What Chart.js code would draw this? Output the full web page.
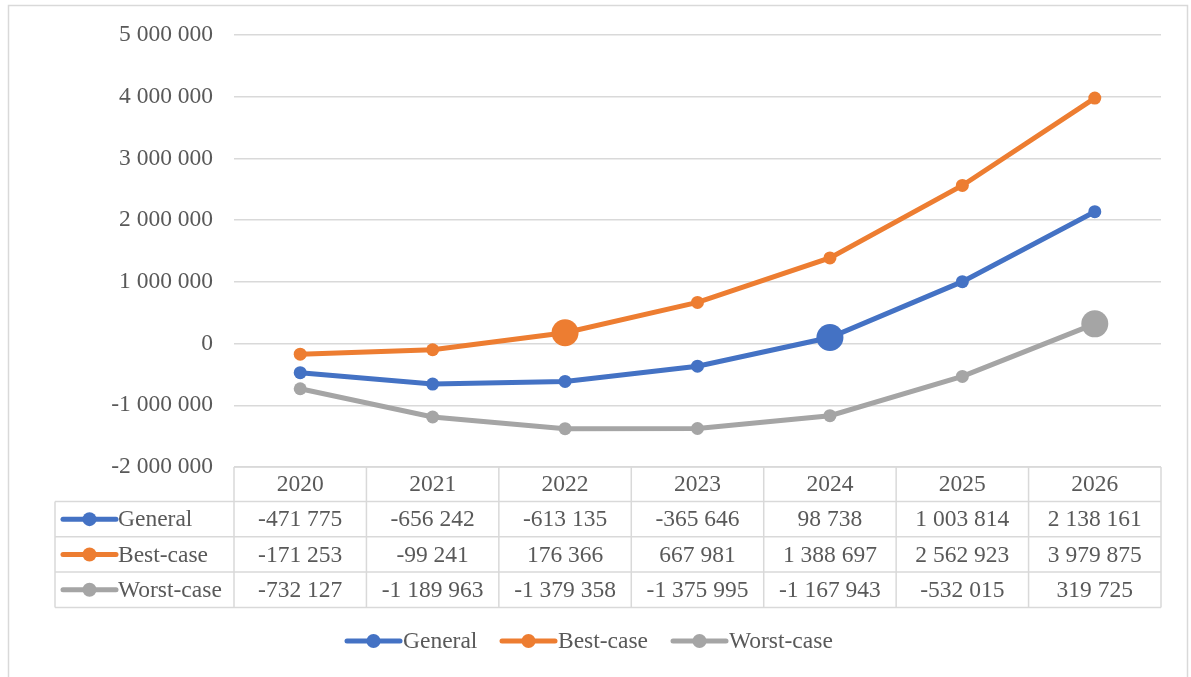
<!DOCTYPE html>
<html><head><meta charset="utf-8">
<script src="https://cdn.jsdelivr.net/npm/chart.js@4.4.1/dist/chart.umd.min.js"></script>
<style>html,body{margin:0;padding:0;background:#fff;}canvas{display:block}</style>
</head><body>
<canvas id="c" width="1191" height="677"></canvas>
<script>
// ---- data ----
const years = ['2020', '2021', '2022', '2023', '2024', '2025', '2026'];
const general = [-471775, -656242, -613135, -365646, 98738, 1003814, 2138161];
const bestCase = [-171253, -99241, 176366, 667981, 1388697, 2562923, 3979875];
const worstCase = [-732127, -1189963, -1379358, -1375995, -1167943, -532015, 319725];
const seriesNames = ['General', 'Best-case', 'Worst-case'];
const yMin = -2000000, yMax = 5000000, yStep = 1000000;
const highlightIndex = [4, 2, 6]; // enlarged marker per series

// ---- styles ----
const FONT = '"Liberation Serif", "Times New Roman", serif';
const FS = 23.5;
const TXT = '#595959';
const GRID = '#d9d9d9';
const colors = ['#4472C4', '#ED7D31', '#A5A5A5'];
const seriesData = [general, bestCase, worstCase];

function fmt(v) {
  const s = Math.abs(Math.round(v)).toString().replace(/\B(?=(\d{3})+(?!\d))/g, ' ');
  return (v < 0 ? '-' : '') + s;
}

function drawKey(ctx, x1, x2, y, color) {
  ctx.save();
  ctx.strokeStyle = color; ctx.lineWidth = 5; ctx.lineCap = 'round';
  ctx.beginPath(); ctx.moveTo(x1, y); ctx.lineTo(x2, y); ctx.stroke();
  ctx.fillStyle = color;
  ctx.beginPath(); ctx.arc((x1 + x2) / 2, y, 7, 0, Math.PI * 2); ctx.fill();
  ctx.restore();
}

const tablePlugin = {
  id: 'tablePlugin',
  beforeDraw(chart) {
    const ctx = chart.ctx;
    ctx.save();
    ctx.fillStyle = '#fff';
    ctx.fillRect(0, 0, chart.width, chart.height);
    ctx.strokeStyle = GRID; ctx.lineWidth = 1.5;
    ctx.strokeRect(8.5, 5.5, 1179, 720);
    ctx.restore();
  },
  afterDraw(chart) {
    const ctx = chart.ctx;
    const xs = chart.scales.x;
    const area = chart.chartArea;
    const n = years.length;
    const cw = (area.right - area.left) / n;
    const top = area.bottom;
    const hdrBottom = top + 34.5;
    const rowH = 35.3;
    const tableLeft = 55;
    const bottom = hdrBottom + rowH * 3;
    ctx.save();
    ctx.strokeStyle = GRID; ctx.lineWidth = 1.5;
    // horizontal lines
    ctx.beginPath();
    ctx.moveTo(area.left, top); ctx.lineTo(area.right, top);
    for (let r = 0; r <= 3; r++) {
      const y = hdrBottom + r * rowH;
      ctx.moveTo(tableLeft, y); ctx.lineTo(area.right, y);
    }
    // vertical lines
    for (let i = 0; i <= n; i++) {
      const x = area.left + i * cw;
      ctx.moveTo(x, top); ctx.lineTo(x, bottom);
    }
    ctx.moveTo(tableLeft, hdrBottom); ctx.lineTo(tableLeft, bottom);
    ctx.stroke();

    ctx.fillStyle = TXT;
    ctx.font = FS + 'px ' + FONT;
    ctx.textAlign = 'center'; ctx.textBaseline = 'middle';
    years.forEach((yr, i) => {
      ctx.fillText(yr, xs.getPixelForValue(i), (top + hdrBottom) / 2 + 1);
    });
    seriesData.forEach((arr, r) => {
      const yc = hdrBottom + r * rowH + rowH / 2 + 1;
      ctx.textAlign = 'center';
      ctx.fillStyle = TXT;
      arr.forEach((v, i) => ctx.fillText(fmt(v), xs.getPixelForValue(i), yc));
      drawKey(ctx, 63, 116, yc - 1, colors[r]);
      ctx.textAlign = 'left'; ctx.fillStyle = TXT;
      ctx.fillText(seriesNames[r], 118, yc);
    });

    // bottom legend
    const ly = 641;
    const legendX = [347, 502, 673];
    seriesNames.forEach((name, r) => {
      const x = legendX[r];
      drawKey(ctx, x, x + 53, ly, colors[r]);
      ctx.textAlign = 'left'; ctx.fillStyle = TXT;
      ctx.fillText(name, x + 56, ly + 1);
    });
    ctx.restore();
  }
};

const datasets = seriesNames.map((name, k) => ({
  label: name,
  data: seriesData[k],
  borderColor: colors[k],
  backgroundColor: colors[k],
  borderWidth: 5,
  tension: 0,
  pointBackgroundColor: colors[k],
  pointBorderColor: colors[k],
  pointBorderWidth: 0,
  pointRadius: c => c.dataIndex === highlightIndex[k] ? 13.5 : 6.5,
  pointHoverRadius: c => c.dataIndex === highlightIndex[k] ? 13.5 : 6.5
}));

new Chart(document.getElementById('c'), {
  type: 'line',
  data: { labels: years, datasets },
  plugins: [tablePlugin],
  options: {
    responsive: false,
    animation: false,
    events: [],
    layout: { padding: { left: 0, right: 30, top: 35, bottom: 210 } },
    plugins: { legend: { display: false }, tooltip: { enabled: false } },
    scales: {
      x: {
        offset: true,
        display: false,
        grid: { display: false }
      },
      y: {
        min: yMin, max: yMax,
        afterFit(scale) { scale.width = 234; },
        ticks: {
          stepSize: yStep,
          padding: 21,
          color: TXT,
          font: { family: FONT, size: FS },
          callback: v => fmt(v)
        },
        grid: { color: GRID, lineWidth: 1.5, drawTicks: false },
        border: { display: false }
      }
    }
  }
});
</script>
</body></html>
